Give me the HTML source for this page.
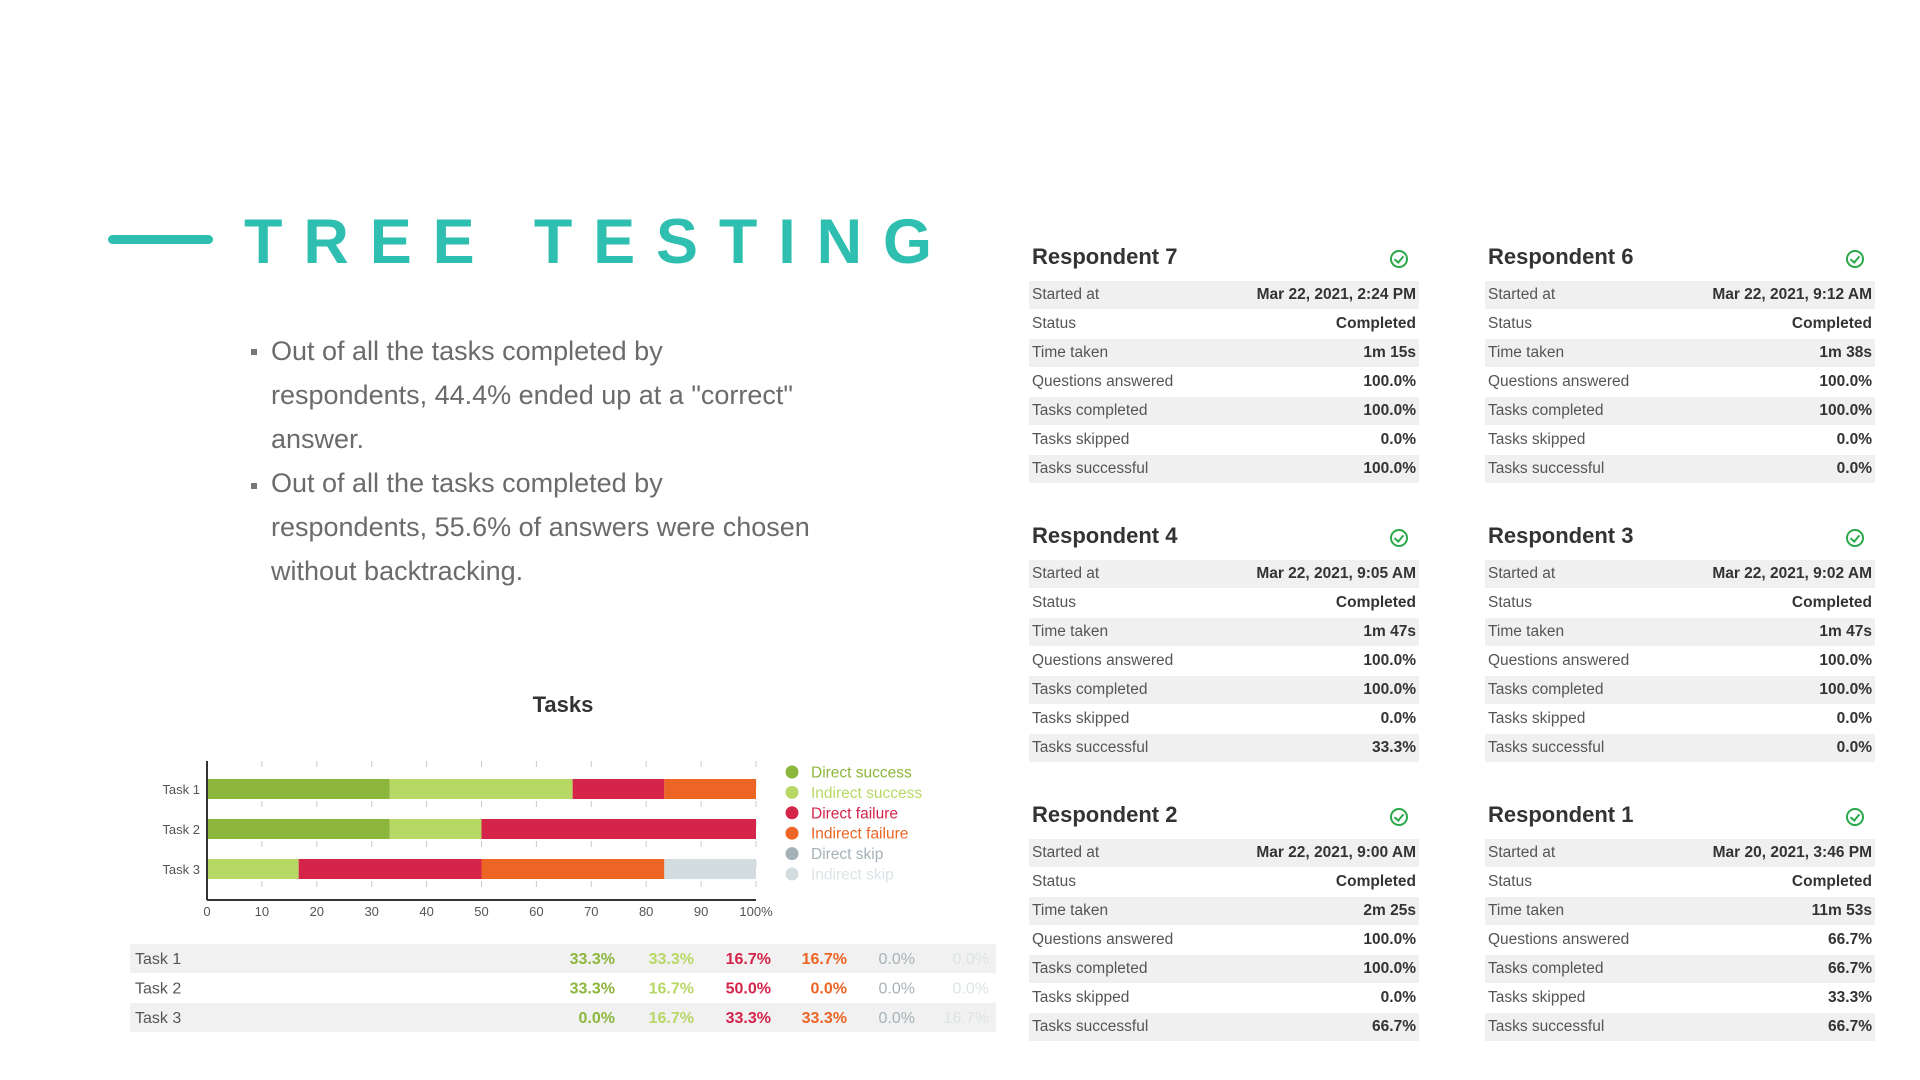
<!DOCTYPE html>
<html><head><meta charset="utf-8">
<style>
body{margin:0;width:1920px;height:1080px;background:#fff;overflow:hidden;font-family:"Liberation Sans",sans-serif;position:relative}
.abs{position:absolute}
.bl{position:absolute;left:271px;font-size:27px;color:#6b6b6b;white-space:nowrap}
.card{position:absolute;width:390px}
.card h3{margin:0;position:absolute;left:3px;top:-13px;font-size:22px;font-weight:bold;color:#333}
.chk{position:absolute;left:361px;top:-7px;width:18px;height:18px;border:2.5px solid #2aa84a;border-radius:50%;box-sizing:border-box}
.chk:after{content:"";position:absolute;left:4px;top:2px;width:4px;height:7px;border:solid #2aa84a;border-width:0 2.5px 2.5px 0;transform:rotate(40deg)}
.row{position:absolute;left:0;width:390px;height:28px;font-size:15.5px;line-height:28px;color:#555}
.row.s{background:#f0f0f0}
.row .k{position:absolute;left:3px}
.row .v{position:absolute;right:3px;font-weight:bold;color:#333}
</style></head><body>
<div class="abs" style="left:108px;top:235px;width:105px;height:9px;border-radius:5px;background:#2fbfb0"></div>
<svg class="abs" style="left:0;top:0" width="1000" height="300">
<text x="244" y="263" font-family="Liberation Sans" font-weight="bold" font-size="63" fill="#2fbfb0" textLength="688" lengthAdjust="spacing">TREE TESTING</text>
</svg>
<div class="abs" style="left:251px;top:349px;width:6px;height:6px;background:#777"></div>
<div class="abs" style="left:251px;top:483px;width:6px;height:6px;background:#777"></div>
<div class="bl" style="top:336px">Out of all the tasks completed by</div>
<div class="bl" style="top:380px">respondents, 44.4% ended up at a "correct"</div>
<div class="bl" style="top:424px">answer.</div>
<div class="bl" style="top:468px">Out of all the tasks completed by</div>
<div class="bl" style="top:512px">respondents, 55.6% of answers were chosen</div>
<div class="bl" style="top:556px">without backtracking.</div>

<svg id="chart" class="abs" style="left:0;top:0" width="1010" height="1080"></svg>

<div id="cards"></div>

<script>
const tasks=["Task 1","Task 2","Task 3"];
const seriesNames=["Direct success","Indirect success","Direct failure","Indirect failure","Direct skip","Indirect skip"];
const directSuccess=[33.3,33.3,0.0];
const indirectSuccess=[33.3,16.7,16.7];
const directFailure=[16.7,50.0,33.3];
const indirectFailure=[16.7,0.0,33.3];
const directSkip=[0.0,0.0,0.0];
const indirectSkip=[0.0,0.0,16.7];
const xTicks=[0,10,20,30,40,50,60,70,80,90,100];
const series=[directSuccess,indirectSuccess,directFailure,indirectFailure,directSkip,indirectSkip];
const colors=["#8cb63c","#b8d866","#d4244a","#ec6525","#a5b1b8","#d3dde0"];
const textColors=["#8cb63c","#b8d866","#d4244a","#ec6525","#a5b1b8","#dde4e6"];

const NS="http://www.w3.org/2000/svg";
const svg=document.getElementById("chart");
function mk(tag,attrs,parent){const e=document.createElementNS(NS,tag);for(const k in attrs)e.setAttribute(k,attrs[k]);(parent||svg).appendChild(e);return e;}
const x0=207,x1=756,yTop=761,yBot=900;
const xs=v=>x0+(x1-x0)*v/100;
const yc=i=>789+i*40;
let t=mk("text",{x:563,y:712,"text-anchor":"middle","font-size":22,"font-weight":"bold",fill:"#333"});


t.textContent="Tasks";
xTicks.forEach(v=>{
  const g=mk("line",{x1:xs(v),x2:xs(v),y1:yTop,y2:yBot,stroke:"#ccc","stroke-dasharray":"6,14"});
  
  
  const l=mk("text",{x:xs(v),y:916,"text-anchor":"middle","font-size":13,fill:"#555"});
  
  
  l.textContent=v===100?"100%":String(v);
});
tasks.forEach((name,i)=>{
  let acc=0;
  series.forEach((s,j)=>{
    const v=s[i];
    if(v>0){
      const r=mk("rect",{x:xs(acc),y:yc(i)-10,width:xs(acc+v)-xs(acc),height:20,fill:colors[j]});
      
      
    }
    acc+=v;
  });
  const l=mk("text",{x:200,y:yc(i)+5,"text-anchor":"end","font-size":13,fill:"#555"});
  
  
  l.textContent=name;
});
let ax=mk("line",{x1:x0,x2:x0,y1:yTop,y2:yBot,stroke:"#333","stroke-width":2});


ax=mk("line",{x1:x0,x2:x1,y1:yBot,y2:yBot,stroke:"#333","stroke-width":2});


seriesNames.forEach((n,j)=>{
  const y=772+j*20.4;
  const c=mk("circle",{cx:792,cy:y,r:6.5,fill:colors[j]});
  
  
  const tx=mk("text",{x:811,y:y+5.5,"font-size":15.5,fill:textColors[j]});
  
  
  tx.textContent=n;
});
const colRight=[615,694,771,847,915,989];
tasks.forEach((name,i)=>{
  const y=944+i*29.5;
  if(i!==1){const r=mk("rect",{x:130,y:y,width:866,height:29,fill:"#f1f1f1"});
    
    }
  const l=mk("text",{x:135,y:y+20,"font-size":16,fill:"#555"});
  
  
  l.textContent=name;
  series.forEach((s,j)=>{
    const v=mk("text",{x:colRight[j],y:y+20,"text-anchor":"end","font-size":16,"font-weight":j<4?"bold":"normal",fill:textColors[j]});
    
    
    v.textContent=s[i].toFixed(1)+"%";
  });
});

const cards=[
 ["Respondent 7","Mar 22, 2021, 2:24 PM","1m 15s","100.0%","100.0%","0.0%","100.0%"],
 ["Respondent 6","Mar 22, 2021, 9:12 AM","1m 38s","100.0%","100.0%","0.0%","0.0%"],
 ["Respondent 4","Mar 22, 2021, 9:05 AM","1m 47s","100.0%","100.0%","0.0%","33.3%"],
 ["Respondent 3","Mar 22, 2021, 9:02 AM","1m 47s","100.0%","100.0%","0.0%","0.0%"],
 ["Respondent 2","Mar 22, 2021, 9:00 AM","2m 25s","100.0%","100.0%","0.0%","66.7%"],
 ["Respondent 1","Mar 20, 2021, 3:46 PM","11m 53s","66.7%","66.7%","33.3%","66.7%"]
];
const keys=["Started at","Status","Time taken","Questions answered","Tasks completed","Tasks skipped","Tasks successful"];
const cont=document.getElementById("cards");
cards.forEach((c,i)=>{
  const d=document.createElement("div");
  d.className="card";
  
  
  d.style.left=(i%2?1485:1029)+"px";
  d.style.top=(257+Math.floor(i/2)*279)+"px";
  let h='<h3>'+c[0]+'</h3><div class="chk"></div>';
  const vals=[c[1],"Completed",c[2],c[3],c[4],c[5],c[6]];
  keys.forEach((k,r)=>{
    h+='<div class="row'+(r%2===0?' s':'')+'" style="top:'+(24+r*29)+'px"><span class="k">'+k+'</span><span class="v">'+vals[r]+'</span></div>';
  });
  d.innerHTML=h;
  cont.appendChild(d);
});
</script>
</body></html>
